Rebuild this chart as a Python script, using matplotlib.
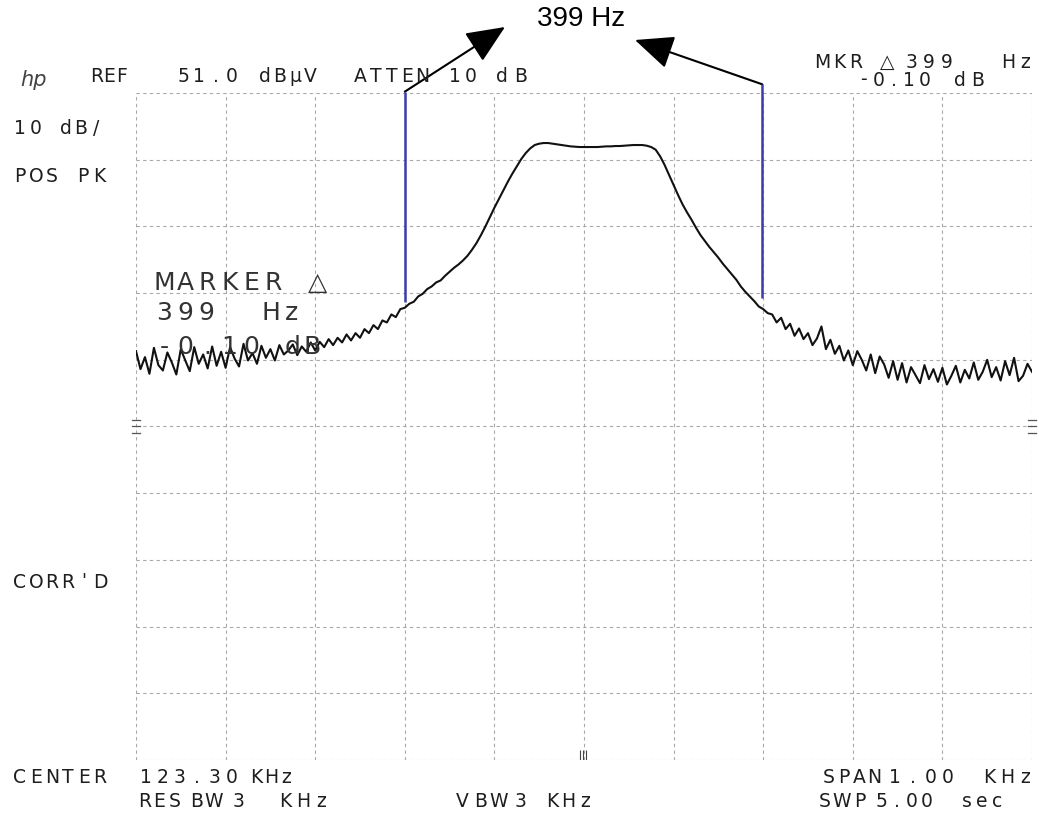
import numpy as np
import matplotlib
matplotlib.use("Agg")
import matplotlib.pyplot as plt

# ---------------- data ----------------
span_hz = 1000
ref_level = 51.0          # dBuV at top graticule line
db_per_div = 10
freq_hz = np.arange(-500, 501, 5)   # offset from 123.30 kHz centre
level_dbuv = [
    12.3, 9.6, 11.4, 8.9, 12.8, 10.2, 9.4, 12.1, 10.6, 8.8,
    12.6, 10.9, 9.3, 12.9, 10.4, 11.8, 9.7, 13.0, 10.1, 12.2,
    9.8, 12.9, 11.2, 10.0, 13.4, 10.9, 12.0, 10.4, 13.1, 11.3,
    12.6, 10.9, 13.2, 11.8, 12.4, 13.3, 11.7, 13.0, 12.2, 13.6,
    12.4, 13.7, 12.9, 14.1, 13.2, 14.3, 13.6, 14.8, 13.9, 15.0,
    14.3, 15.6, 15.0, 16.2, 15.6, 16.9, 16.6, 17.8, 17.4, 18.6,
    18.8, 19.4, 19.7, 20.5, 20.9, 21.6, 22.0, 22.6, 22.9, 23.6,
    24.2, 24.8, 25.3, 25.9, 26.6, 27.5, 28.5, 29.7, 31.0, 32.4,
    33.8, 35.1, 36.4, 37.7, 38.9, 40.0, 41.1, 42.0, 42.7, 43.2,
    43.4, 43.5, 43.5, 43.4, 43.3, 43.2, 43.1, 43.0, 42.95, 42.9,
    42.9, 42.9, 42.9, 42.9, 42.95, 43.0, 43.0, 43.05, 43.05, 43.1,
    43.15, 43.2, 43.2, 43.2, 43.1, 42.9, 42.5, 41.5, 40.2, 38.7,
    37.2, 35.7, 34.3, 33.1, 32.0, 30.8, 29.7, 28.8, 27.9, 27.1,
    26.3, 25.4, 24.6, 23.8, 23.0, 22.0, 21.2, 20.5, 19.8, 19.0,
    18.6, 18.0, 17.8, 16.6, 17.3, 15.6, 16.4, 14.6, 15.7, 14.1,
    15.0, 13.2, 14.2, 16.0, 12.6, 14.0, 11.9, 13.1, 10.9, 12.4,
    10.2, 12.3, 11.0, 9.4, 11.8, 9.0, 11.5, 10.3, 8.3, 10.8,
    8.0, 10.5, 7.6, 9.9, 8.7, 7.5, 10.2, 8.1, 9.6, 7.7,
    9.8, 7.3, 8.6, 10.1, 7.6, 9.5, 8.2, 10.6, 8.0, 9.2,
    11.0, 8.4, 9.9, 7.9, 10.8, 8.7, 11.3, 7.8, 8.6, 10.4,
    9.2,
]
marker_hz = [-200, 199]
marker_bottom_db = [19.7, 20.3]
marker_top_db = [51.2, 52.3]
feedthrough_hz = [-4, -1, 2]
annotation_text = "399 Hz"

W, H = 1039, 813
fig = plt.figure(figsize=(W / 100, H / 100), dpi=100)
fig.patch.set_facecolor("white")
ax = fig.add_axes([136 / W, 1 - 760 / H, (1032 - 136) / W, (760 - 93) / H])
ax.set_xlim(-span_hz / 2, span_hz / 2)
ax.set_ylim(ref_level - 10 * db_per_div, ref_level)
ax.axis("off")

# graticule
gcol = "#a8a8a8"
for x in np.arange(-500, 501, 100):
    ax.axvline(x, color=gcol, lw=0.8, ls=(0, (3, 3)), zorder=1)
for k in range(11):
    ax.axhline(ref_level - k * db_per_div, color=gcol, lw=0.8, ls=(0, (3, 3)), zorder=1)
# small edge marks on centre line
for dy in (-1.0, 0.0, 1.0):
    ax.plot([-504, -496], [ref_level - 50 + dy] * 2, color="#555555", lw=0.9, clip_on=False)
    ax.plot([496, 504], [ref_level - 50 + dy] * 2, color="#555555", lw=0.9, clip_on=False)

# trace
ax.plot(freq_hz, level_dbuv, color="#111111", lw=1.5, zorder=3)
ax.vlines(feedthrough_hz, ref_level - 100, ref_level - 98.5, color="#444444", lw=0.8)

# delta markers
ax.vlines(marker_hz, marker_bottom_db, marker_top_db, colors="#3c3cab", lw=1.8,
          clip_on=False, zorder=4)

# arrows + label
arrow_style = dict(arrowstyle="-|>,head_length=0.8,head_width=0.35", mutation_scale=30,
                   color="black", lw=1.5, shrinkA=0, shrinkB=0)
ax.annotate("", xy=(505, H - 27), xycoords="figure pixels",
            xytext=(marker_hz[0], marker_top_db[0]), textcoords="data",
            arrowprops=arrow_style, annotation_clip=False)
ax.annotate("", xy=(635, H - 40), xycoords="figure pixels",
            xytext=(marker_hz[1], marker_top_db[1]), textcoords="data",
            arrowprops=arrow_style, annotation_clip=False)
fig.text(581 / W, 1 - 19 / H, annotation_text, ha="center", va="center",
         fontsize=20, family=["Liberation Sans", "DejaVu Sans"], color="black")

# instrument annotations (placed on character cells)
FONT = ["DejaVu Sans", "DejaVu Sans Mono"]


def word(s, x0, x1, yc, size=13.5, color="#1e1e1e"):
    n = len(s)
    step = (x1 - x0) / n
    for k, ch in enumerate(s):
        fig.text((x0 + (k + 0.5) * step) / W, 1 - yc / H, ch, ha="center", va="center",
                 fontsize=size, family=FONT, color=color)


fig.text(20 / W, 1 - 80 / H, "hp", ha="left", va="center", fontsize=15,
         fontstyle="italic", family=["DejaVu Sans"], color="#444444")
for s, x0, x1 in [("REF", 91, 128), ("51.0", 175, 240), ("dBµV", 257, 318),
                  ("ATTEN", 353, 430), ("10", 447, 478), ("dB", 493, 530)]:
    word(s, x0, x1, 76)
for s, x0, x1 in [("MKR", 814, 864), ("△", 876, 898), ("399", 903, 955), ("Hz", 1000, 1034)]:
    word(s, x0, x1, 62)
for s, x0, x1 in [("-0.10", 856, 932), ("dB", 951, 987)]:
    word(s, x0, x1, 80)
for s, x0, x1 in [("10", 12, 44), ("dB/", 58, 104)]:
    word(s, x0, x1, 128)
for s, x0, x1 in [("POS", 12, 60), ("PK", 74, 108)]:
    word(s, x0, x1, 176)
word("CORR'D", 12, 108, 582)
for s, x0, x1 in [("MARKER", 153, 284), ("△", 303, 332)]:
    word(s, x0, x1, 283, size=18, color="#333333")
for s, x0, x1 in [("399", 153, 217), ("Hz", 260, 302)]:
    word(s, x0, x1, 313, size=18, color="#333333")
for s, x0, x1 in [("-0.10", 153, 262), ("dB", 283, 322)]:
    word(s, x0, x1, 347, size=18, color="#333333")
for s, x0, x1 in [("CENTER", 12, 108), ("123.30", 137, 240), ("KHz", 249, 293)]:
    word(s, x0, x1, 777)
for s, x0, x1 in [("RES", 137, 182), ("BW", 188, 222), ("3", 230, 248), ("KHz", 276, 330)]:
    word(s, x0, x1, 801)
for s, x0, x1 in [("VBW", 453, 508), ("3", 513, 529), ("KHz", 544, 593)]:
    word(s, x0, x1, 801)
for s, x0, x1 in [("SPAN", 821, 882), ("1.00", 886, 957), ("KHz", 980, 1034)]:
    word(s, x0, x1, 777)
for s, x0, x1 in [("SWP", 816, 868), ("5.00", 874, 934), ("sec", 960, 1004)]:
    word(s, x0, x1, 801)

fig.savefig("out.png", dpi=100, facecolor="white")
